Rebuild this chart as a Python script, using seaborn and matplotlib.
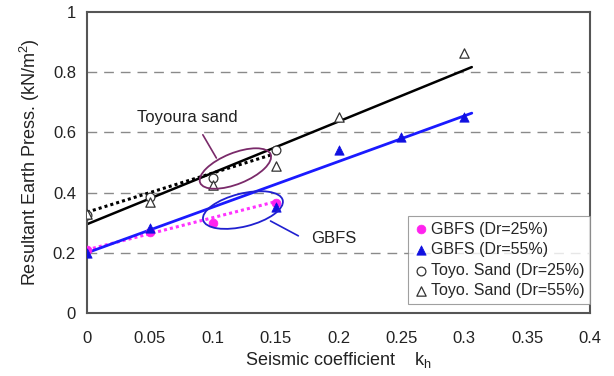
import matplotlib
matplotlib.use("Agg")
import matplotlib.pyplot as plt
import matplotlib.transforms as mtransforms
from matplotlib.patches import Ellipse
import seaborn as sns
import pandas as pd

# ---- data ----
kh_gbfs25 = [0.0, 0.05, 0.10, 0.15]
p_gbfs25 = [0.21, 0.27, 0.30, 0.366]
kh_gbfs55 = [0.0, 0.05, 0.15, 0.20, 0.25, 0.30]
p_gbfs55 = [0.20, 0.283, 0.352, 0.54, 0.585, 0.65]
kh_toyo25 = [0.0, 0.05, 0.10, 0.15]
p_toyo25 = [0.325, 0.385, 0.45, 0.54]
kh_toyo55 = [0.0, 0.05, 0.10, 0.15, 0.20, 0.30]
p_toyo55 = [0.33, 0.37, 0.425, 0.488, 0.65, 0.863]

# fitted trend lines (endpoints)
fit_gbfs25_x = [0.0, 0.15]; fit_gbfs25_y = [0.21, 0.37]
fit_gbfs55_x = [0.0, 0.306]; fit_gbfs55_y = [0.20, 0.664]
fit_toyo25_x = [0.0, 0.15]; fit_toyo25_y = [0.335, 0.53]
fit_toyo55_x = [0.0, 0.306]; fit_toyo55_y = [0.295, 0.817]

x_ticks = [0, 0.05, 0.1, 0.15, 0.2, 0.25, 0.3, 0.35, 0.4]
x_ticklabels = ["0", "0.05", "0.1", "0.15", "0.2", "0.25", "0.3", "0.35", "0.4"]
y_ticks = [0, 0.2, 0.4, 0.6, 0.8, 1.0]
y_ticklabels = ["0", "0.2", "0.4", "0.6", "0.8", "1"]

sns.set_style("white")
plt.rcParams['font.family'] = ['Liberation Sans', 'DejaVu Sans']

fig = plt.figure(figsize=(6.14, 3.76), dpi=100)
ax = fig.add_axes([87/614, 1-313/376, (590-87)/614, (313-12)/376])

# gridlines
for yv in y_ticks[1:-1]:
    ax.axhline(yv, color="#8a8a8a", lw=1.0, ls=(0, (7, 5)), zorder=0)

# fitted lines
sns.lineplot(x=fit_gbfs25_x, y=fit_gbfs25_y, ax=ax, color="#ff33ff", lw=2.2,
             linestyle=(0, (1, 1)), zorder=2)
sns.lineplot(x=fit_gbfs55_x, y=fit_gbfs55_y, ax=ax, color="#1a1aff", lw=2.0, zorder=2)
sns.lineplot(x=fit_toyo25_x, y=fit_toyo25_y, ax=ax, color="black", lw=2.2,
             linestyle=(0, (1, 1)), zorder=2)
sns.lineplot(x=fit_toyo55_x, y=fit_toyo55_y, ax=ax, color="black", lw=1.8, zorder=2)

# markers
sns.scatterplot(x=kh_gbfs25, y=p_gbfs25, ax=ax, marker="o", s=40, color="#ff22ee",
                edgecolor="#ff22ee", label="GBFS (Dr=25%)", zorder=3)
sns.scatterplot(x=kh_gbfs55, y=p_gbfs55, ax=ax, marker="^", s=45, color="#1010e0",
                edgecolor="#1010e0", label="GBFS (Dr=55%)", zorder=3)
sns.scatterplot(x=kh_toyo25, y=p_toyo25, ax=ax, marker="o", s=40, facecolor="white",
                edgecolor="#333333", linewidth=0.9, label="Toyo. Sand (Dr=25%)", zorder=3)
sns.scatterplot(x=kh_toyo55, y=p_toyo55, ax=ax, marker="^", s=45, facecolor="white",
                edgecolor="#333333", linewidth=0.9, label="Toyo. Sand (Dr=55%)", zorder=3)

ax.set_xlim(0, 0.4)
ax.set_ylim(0, 1)
ax.set_xticks(x_ticks)
ax.set_xticklabels(x_ticklabels)
ax.set_yticks(y_ticks)
ax.set_yticklabels(y_ticklabels)
ax.tick_params(axis="x", direction="in", length=4, width=0.8, colors="#555555",
               labelcolor="#222222", labelsize=12, pad=13)
ax.tick_params(axis="y", length=0, labelcolor="#222222", labelsize=12, pad=8)
for sp in ax.spines.values():
    sp.set_color("#555555")
    sp.set_linewidth(1.5)

ax.set_xlabel("Seismic coefficient    k$_\\mathregular{h}$", fontsize=13, color="#222222", labelpad=3)
ax.set_ylabel("Resultant Earth Press. (kN/m$^\\mathregular{2}$)", fontsize=13, color="#222222", labelpad=8)

# annotations: ellipses sized in inches, centered in data coords
def ell(cx, cy, w, h, ang, color):
    tr = fig.dpi_scale_trans + mtransforms.ScaledTranslation(cx, cy, ax.transData)
    e = Ellipse((0, 0), w, h, angle=ang, transform=tr, fill=False, edgecolor=color, lw=1.3, zorder=4)
    ax.add_patch(e)

ell(0.118, 0.48, 0.76, 0.31, 22, "#7a2a6a")
ell(0.124, 0.342, 0.82, 0.33, 14, "#2020d0")

ax.text(0.080, 0.648, "Toyoura sand", fontsize=12, ha="center", va="center", color="#222222",
        bbox=dict(facecolor="white", edgecolor="none", pad=1))
ax.annotate("", xy=(0.104, 0.507), xytext=(0.091, 0.60),
            arrowprops=dict(arrowstyle="-", color="#7a2a6a", lw=1.2))
ax.text(0.196, 0.249, "GBFS", fontsize=12, ha="center", va="center", color="#222222",
        bbox=dict(facecolor="white", edgecolor="none", pad=1))
ax.annotate("", xy=(0.144, 0.31), xytext=(0.170, 0.252),
            arrowprops=dict(arrowstyle="-", color="#2020d0", lw=1.2))

leg = ax.legend(loc="lower right", bbox_to_anchor=(1.0, 0.03), fontsize=11.5, frameon=True,
                fancybox=False, edgecolor="#888888", handletextpad=0.1, handlelength=1.0,
                borderpad=0.35, labelspacing=0.35, borderaxespad=0.0)
leg.get_frame().set_linewidth(0.8)

fig.savefig("out.png", dpi=100)
